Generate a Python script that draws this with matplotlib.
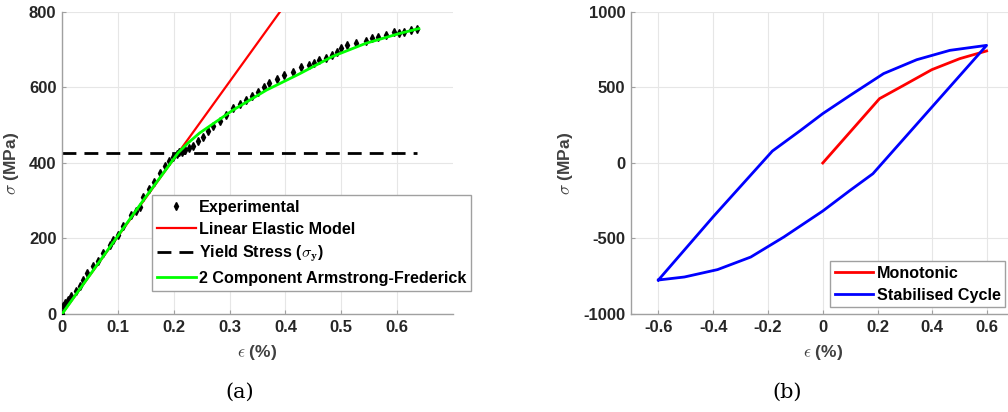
import matplotlib
matplotlib.use("Agg")
import matplotlib.pyplot as plt

plt.rcParams['font.family'] = ['Liberation Sans', 'DejaVu Sans']
plt.rcParams['mathtext.fontset'] = 'cm'

exp_strain = [0.0, 0.002, 0.006, 0.011, 0.017, 0.025, 0.032, 0.038, 0.045, 0.056, 0.065,
              0.073, 0.086, 0.092, 0.10, 0.11, 0.124, 0.132, 0.139, 0.145, 0.155, 0.165,
              0.175, 0.185, 0.192, 0.199, 0.205, 0.21, 0.215, 0.22, 0.227, 0.234, 0.243,
              0.252, 0.262, 0.27, 0.282, 0.294, 0.306, 0.318, 0.33, 0.34, 0.351, 0.361,
              0.371, 0.385, 0.398, 0.413, 0.428, 0.443, 0.452, 0.461, 0.472, 0.484, 0.492,
              0.499, 0.511, 0.526, 0.544, 0.555, 0.565, 0.58, 0.595, 0.603, 0.613, 0.625,
              0.636]
exp_stress = [0, 21, 28, 37, 48, 62, 74, 90, 108, 127, 140, 161, 184, 196, 210, 233, 262,
              272, 284, 311, 330, 350, 373, 392, 405, 417, 425, 430, 428, 434, 440, 446,
              458, 470, 484, 498, 512, 527, 545, 556, 567, 578, 589, 600, 611, 622, 633,
              642, 655, 660, 666, 673, 678, 686, 695, 704, 713, 719, 724, 730, 735, 739,
              748, 745, 748, 752, 754]

elastic_strain = [0.0, 0.39]
elastic_stress = [0, 800]

yield_strain = [0.0, 0.636]
yield_stress = [427, 427]

af_strain = [0.0, 0.145, 0.208, 0.225, 0.246, 0.306, 0.366, 0.425, 0.484, 0.544, 0.604, 0.639]
af_stress = [0, 300, 427, 452, 479, 540, 593, 636, 682, 717, 743, 756]

# (b) monotonic and stabilised cycle
mono_strain = [0.0, 0.207, 0.295, 0.398, 0.5, 0.598]
mono_stress = [0, 426, 514, 618, 691, 742]

cyc_up_strain = [-0.6, -0.4, -0.184, -0.081, 0.0, 0.1, 0.222, 0.343, 0.464, 0.598]
cyc_up_stress = [-775, -356, 79, 216, 327, 448, 592, 684, 746, 779]
cyc_dn_strain = [0.598, 0.183, 0.1, 0.0, -0.142, -0.263, -0.384, -0.505, -0.6]
cyc_dn_stress = [779, -71, -181, -318, -490, -623, -706, -755, -775]

tick_color = '#262626'
spine_color = '#a0a0a0'
grid_color = '#e6e6e6'

fig = plt.figure(figsize=(10.08, 4.12), dpi=100)
ax1 = fig.add_axes([0.0615, 0.2379, 0.3879, 0.7330])
ax2 = fig.add_axes([0.6260, 0.2379, 0.3805, 0.7330])


def style(ax):
    for s in ['top', 'right']:
        ax.spines[s].set_visible(False)
    for s in ['left', 'bottom']:
        ax.spines[s].set_color(spine_color)
        ax.spines[s].set_linewidth(1.0)
    ax.grid(True, color=grid_color, linewidth=0.8)
    ax.set_axisbelow(True)
    ax.tick_params(direction='in', length=3, color=spine_color, labelsize=12,
                   labelcolor=tick_color, pad=4)
    for lab in ax.get_xticklabels() + ax.get_yticklabels():
        lab.set_fontweight('bold')
    ax.set_xlabel(r'$\epsilon$ (%)', fontsize=12.5, fontweight='bold', color='#404040', labelpad=6)
    ax.set_ylabel(r'$\sigma$ (MPa)', fontsize=12.5, fontweight='bold', color='#404040', labelpad=6)


legend_opts = dict(loc='upper left', bbox_transform=fig.transFigure,
                   prop={'weight': 'bold', 'size': 11.6}, fancybox=False, edgecolor=spine_color,
                   framealpha=1, handlelength=2.4, handletextpad=0.2, borderpad=0.3,
                   labelspacing=0.42, borderaxespad=0)

# panel (a)
ax1.plot(exp_strain, exp_stress, 'kd', markersize=4, label='Experimental', zorder=3)
ax1.plot(elastic_strain, elastic_stress, color='#ff0000', linewidth=1.6, label='Linear Elastic Model')
ax1.plot(yield_strain, yield_stress, color='black', linewidth=2, dashes=(5, 2.9),
         label=r'Yield Stress ($\sigma_{\mathbf{y}}$)')
ax1.plot(af_strain, af_stress, color='#00ff00', linewidth=2,
         label='2 Component Armstrong-Frederick', zorder=4)
ax1.set_xlim(0, 0.7)
ax1.set_ylim(0, 800)
ax1.set_xticks([0, 0.1, 0.2, 0.3, 0.4, 0.5, 0.6])
ax1.set_xticklabels(['0', '0.1', '0.2', '0.3', '0.4', '0.5', '0.6'])
ax1.set_yticks([0, 200, 400, 600, 800])
style(ax1)
leg1 = ax1.legend(bbox_to_anchor=(0.1508, 0.5267), **legend_opts)
leg1.get_frame().set_linewidth(1.0)

# panel (b)
ax2.plot(mono_strain, mono_stress, color='#ff0000', linewidth=2, label='Monotonic')
ax2.plot(cyc_up_strain + cyc_dn_strain, cyc_up_stress + cyc_dn_stress, color='#0000ff',
         linewidth=2, label='Stabilised Cycle')
ax2.set_xlim(-0.7, 0.7)
ax2.set_ylim(-1000, 1000)
ax2.set_xticks([-0.6, -0.4, -0.2, 0, 0.2, 0.4, 0.6])
ax2.set_xticklabels(['-0.6', '-0.4', '-0.2', '0', '0.2', '0.4', '0.6'])
ax2.set_yticks([-1000, -500, 0, 500, 1000])
ax2.set_yticklabels(['-1000', '-500', '0', '500', '1000'])
style(ax2)
leg2 = ax2.legend(bbox_to_anchor=(0.8234, 0.3665), **legend_opts)
leg2.get_frame().set_linewidth(1.0)

fig.text(0.238, 0.035, '(a)', fontsize=15, family='DejaVu Serif', ha='center')
fig.text(0.781, 0.035, '(b)', fontsize=15, family='DejaVu Serif', ha='center')

fig.savefig('out.png', dpi=100)
